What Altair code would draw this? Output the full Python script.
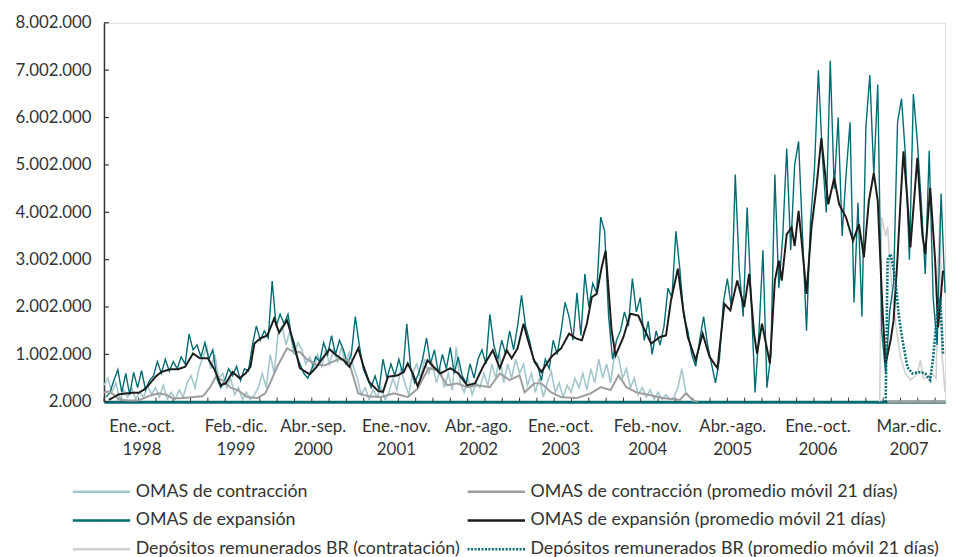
import altair as alt
import pandas as pd

# ---------------- data (values in millions of pesos) ----------------
SERIES = [
    "OMAS de contracción",
    "OMAS de contracción (promedio móvil 21 días)",
    "OMAS de expansión",
    "OMAS de expansión (promedio móvil 21 días)",
    "Depósitos remunerados BR (contratación)",
    "Depósitos remunerados BR (promedio móvil 21 días)",
]
COLORS = ["#a3c6cd", "#9d9d9d", "#006b70", "#1c1c1c", "#d0d0d0", "#006b70"]
DASHES = [[1, 0], [1, 0], [1, 0], [1, 0], [1, 0], [2, 1.5]]

# x axis: observation index (0 .. 850)
PERIODOS = ["Ene.-oct.", "Feb.-dic.", "Abr.-sep.", "Ene.-nov.", "Abr.-ago.",
            "Ene.-oct.", "Feb.-nov.", "Abr.-ago.", "Ene.-oct.", "Mar.-dic."]
ANIOS = ["1998", "1999", "2000", "2001", "2002", "2003", "2004", "2005", "2006", "2007"]
POS_ETIQUETAS = [38, 133, 211, 295, 378, 461, 549, 635, 721, 813]

# OMAS de contracción (daily), regular step
CONTR_INICIO, CONTR_PASO = 0, 4
CONTR = [
    0.35, 0.5, 0.2, 0.4, 0.05, 0.25, 0.1, 0.3, 0.05, 0.2,
    0.1, 0.35, 0.15, 0.3, 0.1, 0.35, 0.05, 0.2, 0.05, 0.25,
    0.1, 0.4, 0.55, 0.3, 0.7, 0.95, 1.15, 0.7, 1.0, 0.5,
    0.6, 0.3, 0.5, 0.15, 0.3, 0.05, 0.2, 0.05, 0.15, 0.3,
    0.6, 0.3, 1.0, 0.6, 1.45, 1.6, 1.2, 1.5, 1.0, 1.25,
    1.1, 0.8, 0.95, 0.7, 1.0, 0.75, 1.1, 0.8, 1.1, 0.85,
    1.15, 0.8, 1.05, 0.75, 0.5, 0.15, 0.3, 0.05, 0.25, 0.1,
    0.3, 0.05, 0.2, 0.5, 0.25, 0.7, 0.4, 0.15, 0.6, 0.8,
    0.5, 0.9, 0.6, 0.8, 0.4, 0.7, 0.3, 0.6, 0.25, 1.15,
    0.4, 0.2, 0.5, 0.15, 0.4, 0.3, 0.6, 0.35, 0.8, 0.5,
    1.0, 0.4, 0.8, 0.5, 0.9, 0.6, 0.8, 0.35, 0.6, 0.2,
    0.5, 0.1, 0.4, 0.65, 0.2, 0.4, 0.1, 0.35, 0.2, 0.5,
    0.3, 0.6, 0.25, 0.7, 0.4, 0.9, 0.5, 0.8, 0.4, 1.0,
    0.95, 0.5, 0.7, 0.3, 0.5, 0.15, 0.3, 0.1, 0.25, 0.05,
    0.2, 0.05, 0.15, 0.05, 0.1, 0.3, 0.7, 0.2, 0.1, 0.0,
]

# OMAS de contracción, 21-day moving average
CONTR_MA_T = [
    0, 5, 10, 15, 25, 35, 45, 55, 63, 70,
    80, 90, 100, 107, 113, 120, 128, 135, 145, 155,
    163, 168, 175, 185, 192, 198, 205, 215, 223, 237,
    247, 253, 257, 267, 280, 293, 307, 317, 328, 337,
    347, 357, 367, 377, 390, 400, 410, 420, 425, 435,
    442, 452, 462, 478, 492, 502, 512, 520, 528, 538,
    552, 565, 582, 588, 595, 600,
]
CONTR_MA = [
    0.2, 0.22, 0.15, 0.05, 0.03, 0.03, 0.12, 0.18, 0.15, 0.07,
    0.08, 0.1, 0.12, 0.3, 0.53, 0.45, 0.3, 0.25, 0.1, 0.08,
    0.18, 0.4, 0.74, 1.13, 1.05, 1.05, 0.9, 0.78, 0.77, 0.9,
    0.88, 0.46, 0.18, 0.12, 0.1, 0.18, 0.1, 0.28, 0.71, 0.67,
    0.35, 0.39, 0.31, 0.35, 0.31, 0.6, 0.46, 0.56, 0.2, 0.39,
    0.39, 0.2, 0.1, 0.08, 0.18, 0.31, 0.25, 0.56, 0.31, 0.2,
    0.14, 0.08, 0.04, 0.18, 0.04, 0.0,
]

# OMAS de expansión (daily), regular step
EXP_INICIO, EXP_PASO = 2, 4
EXP = [
    0.1, 0.2, 0.45, 0.68, 0.2, 0.6, 0.15, 0.62, 0.3, 0.66,
    0.25, 0.45, 0.55, 0.85, 0.6, 0.9, 0.65, 0.85, 0.7, 0.95,
    0.8, 1.43, 1.1, 1.2, 0.95, 1.25, 0.9, 1.1, 0.5, 0.3,
    0.45, 0.7, 0.55, 0.75, 0.45, 0.7, 0.65, 1.2, 1.6, 1.3,
    1.5, 1.35, 2.55, 1.6, 1.85, 1.65, 1.85, 1.3, 1.0, 0.8,
    0.6, 0.5, 0.7, 0.95, 0.85, 1.25, 1.0, 1.4, 1.0, 1.3,
    1.1, 0.8, 1.0, 1.8, 1.2, 0.7, 0.5, 0.3, 0.55, 0.25,
    0.9, 0.5, 0.8, 0.55, 0.9, 0.6, 1.65, 0.7, 0.4, 0.6,
    0.9, 1.35, 0.8, 1.1, 0.6, 1.0, 0.7, 1.15, 0.6, 0.95,
    0.55, 0.4, 0.8, 0.5, 0.9, 1.1, 0.8, 1.85, 1.2, 0.9,
    1.3, 1.0, 1.5, 1.1, 1.6, 2.25, 1.6, 1.3, 0.9, 0.8,
    0.45, 0.9, 0.7, 1.3, 1.0, 1.5, 2.1, 1.8, 1.3, 2.3,
    1.4, 2.7, 2.0, 2.5, 2.3, 3.9, 3.6, 1.8, 0.9, 1.3,
    1.5, 1.9, 1.6, 2.6, 1.9, 2.2, 1.3, 1.7, 1.0, 1.5,
    1.2, 1.6, 2.4, 2.2, 3.6, 2.8, 1.8, 1.5, 1.0, 0.75,
    1.3, 1.8, 1.2, 0.8, 0.4, 0.9, 2.1, 2.6, 2.0, 4.8,
    2.8, 1.8, 4.1, 2.2, 0.2, 1.5, 3.2, 0.3, 1.0, 4.8,
    2.4, 3.5, 5.35, 3.2, 5.0, 5.5, 3.5, 1.5, 3.8, 4.9,
    7.0, 5.2, 4.0, 7.2, 4.5, 6.0, 3.5, 4.8, 5.9, 2.1,
    4.2, 1.8, 5.8, 6.9, 4.8, 6.7, 1.5, 0.6, 1.9, 2.5,
    5.9, 6.4, 5.2, 3.0, 6.5, 5.5, 4.2, 2.7, 5.3, 2.2,
    1.2, 4.4, 2.3,
]

# OMAS de expansión, 21-day moving average
EXP_MA_T = [
    5, 15, 28, 35, 40, 45, 52, 58, 67, 75,
    82, 90, 97, 105, 112, 118, 123, 130, 137, 143,
    148, 152, 158, 165, 172, 177, 185, 192, 198, 208,
    215, 218, 228, 235, 242, 248, 257, 262, 268, 277,
    282, 287, 297, 303, 307, 312, 317, 327, 333, 340,
    350, 358, 367, 375, 383, 393, 400, 407, 412, 418,
    424, 428, 435, 442, 452, 462, 470, 477, 483, 488,
    493, 498, 503, 507, 510, 513, 517, 525, 532, 540,
    545, 553, 562, 568, 573, 580, 585, 590, 598, 605,
    612, 620, 627, 633, 640, 647, 652, 657, 660, 665,
    673, 678, 682, 685, 690, 695, 698, 702, 705, 710,
    715, 720, 725, 732, 738, 743, 750, 757, 763, 768,
    773, 778, 782, 787, 790, 795, 798, 802, 805, 808,
    812, 815, 822, 827, 830, 835, 840, 843, 848,
]
EXP_MA = [
    0.04, 0.16, 0.19, 0.19, 0.25, 0.35, 0.53, 0.63, 0.69, 0.69,
    0.74, 1.02, 0.92, 0.92, 0.67, 0.35, 0.39, 0.63, 0.5, 0.6,
    0.74, 1.23, 1.34, 1.4, 1.76, 1.46, 1.72, 1.23, 0.71, 0.58,
    0.74, 0.84, 1.11, 0.98, 0.88, 0.74, 1.13, 0.77, 0.42, 0.23,
    0.21, 0.53, 0.56, 0.63, 0.81, 0.6, 0.33, 0.88, 0.74, 0.6,
    0.71, 0.6, 0.35, 0.39, 0.74, 1.09, 0.71, 1.09, 0.92, 1.13,
    1.65, 1.34, 0.85, 0.63, 0.95, 1.13, 1.44, 1.34, 1.3, 1.65,
    2.21, 2.28, 2.84, 3.19, 2.35, 1.51, 0.98, 1.37, 1.86, 1.82,
    1.58, 1.23, 1.37, 1.4, 2.14, 2.81, 2.0, 1.37, 0.88, 1.44,
    0.95, 0.71, 2.07, 1.93, 2.56, 2.0, 2.7, 1.44, 1.02, 1.65,
    0.81, 2.56, 2.98, 2.56, 3.54, 3.68, 3.29, 4.03, 3.4, 2.28,
    3.68, 4.52, 5.57, 4.17, 4.73, 4.17, 3.89, 3.4, 3.75, 3.05,
    4.24, 4.83, 4.24, 1.86, 0.81, 1.3, 1.72, 3.05, 4.24, 5.29,
    4.24, 3.26, 5.15, 3.54, 3.12, 4.52, 2.98, 1.57, 2.77,
]

# Depósitos remunerados BR (contratación)
DEP_T = [784, 786, 790, 792, 795, 800, 805, 810, 815, 820,
         822, 825, 828, 832, 837, 841, 843, 845, 847, 850]
DEP = [0.0, 3.9, 3.5, 3.7, 2.7, 1.65, 0.94, 0.6, 0.46, 0.55,
       0.6, 0.88, 0.5, 0.52, 0.6, 0.5, 3.0, 3.96, 1.0, 0.2]

# Depósitos remunerados BR, 21-day moving average
DEP_MA_T = [790, 792, 795, 800, 803, 807, 812, 817, 825, 830, 835, 838, 842, 845, 848]
DEP_MA = [0.0, 3.0, 3.12, 2.56, 1.86, 1.3, 0.73, 0.6, 0.63, 0.6, 0.46, 0.94, 1.86, 2.2, 1.02]

Y_TICKS = [2000 + k * 1_000_000 for k in range(9)]
X_TICKS = [17.5 * k for k in range(49)]
FIN_DEP_CERO = 792  # where the Depósitos average leaves zero

# ---------------- build table ----------------
rows = []
def add(name, ts, vals):
    for t, v in zip(ts, vals):
        rows.append({"t": t, "valor": v * 1_000_000, "serie": name})

add(SERIES[0], [CONTR_INICIO + CONTR_PASO * i for i in range(len(CONTR))], CONTR)
add(SERIES[1], CONTR_MA_T, CONTR_MA)
add(SERIES[2], [EXP_INICIO + EXP_PASO * i for i in range(len(EXP))], EXP)
add(SERIES[3], EXP_MA_T, EXP_MA)
add(SERIES[4], DEP_T, DEP)
add(SERIES[5], DEP_MA_T, DEP_MA)
df = pd.DataFrame(rows)

# legend is filled column by column (3 rows): raw series left, averages right
LEG_IDX = [0, 2, 4, 1, 3, 5]
LEG_DOMAIN = [SERIES[i] for i in LEG_IDX]
LEG_COLORS = [COLORS[i] for i in LEG_IDX]
LEG_DASHES = [DASHES[i] for i in LEG_IDX]

FONT = "Lato"
TXT = "#333333"

label_arrays = ",".join(f"['{p}','{a}']" for p, a in zip(PERIODOS, ANIOS))
label_expr = f"[{label_arrays}][indexof({POS_ETIQUETAS}, datum.value)]"

x_scale = alt.Scale(domain=[0, 850], nice=False, zero=False)
y_scale = alt.Scale(domain=[2000, 8002000], nice=False, zero=False)

x_enc = alt.X("t:Q", scale=x_scale, axis=alt.Axis(
    values=POS_ETIQUETAS, labelExpr=label_expr, ticks=False, grid=False,
    domainColor="#006b70", domainWidth=3, labelFont=FONT, labelFontSize=17,
    labelColor=TXT, labelPadding=17, labelLineHeight=23, title=None,
    labelFlush=False, labelOverlap=False))
y_enc = alt.Y("valor:Q", scale=y_scale, axis=alt.Axis(
    values=Y_TICKS, labelExpr="replace(replace(format(datum.value, ','), ',', '.'), ',', '.')",
    ticks=False, grid=False, domainColor="#333333", domainWidth=1.5,
    labelFont=FONT, labelFontSize=17, labelColor=TXT, labelPadding=13, title=None))

legend = alt.Legend(
    orient="none", legendX=-33, legendY=464, columns=2, title=None,
    symbolType="stroke", symbolSize=3364, symbolStrokeWidth=2.5, clipHeight=20,
    labelFont=FONT, labelFontSize=18, labelColor=TXT, labelLimit=600,
    columnPadding=6, rowPadding=9, labelOffset=4, padding=0)

color_enc = alt.Color("serie:N", scale=alt.Scale(domain=LEG_DOMAIN, range=LEG_COLORS), legend=legend)
dash_enc = alt.StrokeDash("serie:N", scale=alt.Scale(domain=LEG_DOMAIN, range=LEG_DASHES), legend=legend)

def layer(name, width):
    return alt.Chart(df).transform_filter(alt.datum.serie == name).mark_line(
        strokeWidth=width).encode(x=x_enc, y=y_enc, color=color_enc, strokeDash=dash_enc)

order = [(SERIES[4], 1.6), (SERIES[0], 1.6), (SERIES[2], 1.4),
         (SERIES[1], 2.0), (SERIES[3], 2.0), (SERIES[5], 2.6)]
layers = [layer(n, w) for n, w in order]

xt = pd.DataFrame({"t": X_TICKS})
x_ticks = alt.Chart(xt).mark_rule(color="#333333", strokeWidth=1).encode(
    x=alt.X("t:Q", scale=x_scale), y=alt.datum(2000), y2=alt.datum(90000))

yt = pd.DataFrame({"valor": Y_TICKS})
y_ticks = alt.Chart(yt).mark_rule(color="#333333", strokeWidth=1.2).encode(
    y=alt.Y("valor:Q", scale=y_scale), x=alt.datum(0), x2=alt.datum(5))

gray_base = alt.Chart(pd.DataFrame({"a": [FIN_DEP_CERO], "b": [850]})).mark_rule(
    color="#9d9d9d", strokeWidth=3).encode(
    x=alt.X("a:Q", scale=x_scale), x2="b:Q", y=alt.datum(2000))

chart = alt.layer(x_ticks, y_ticks, *layers, gray_base).properties(
    width=850, height=383,
    padding={"left": 6, "top": 3, "right": 0, "bottom": 0},
).configure_view(stroke=None).configure(background="white")

chart.save("out.html", embed_options={"renderer": "svg", "actions": False})
